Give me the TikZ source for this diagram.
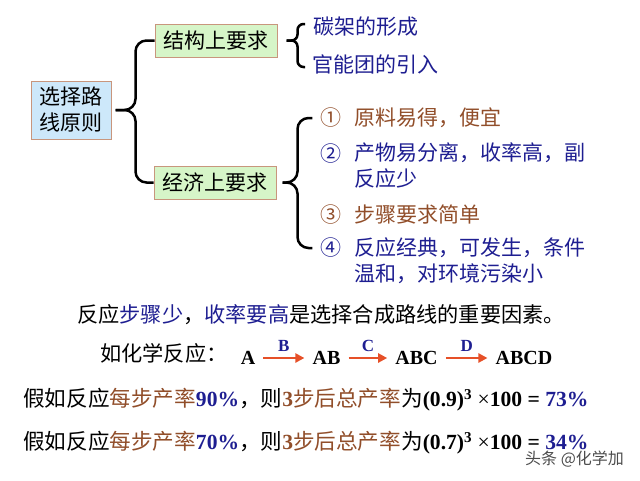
\documentclass[tikz,border=0pt]{standalone}
\usepackage{fontspec}
\setmainfont{Liberation Serif}
\newfontfamily\cjk{Noto Sans CJK SC}
\usetikzlibrary{calc,arrows.meta}
\definecolor{blu}{RGB}{30,30,145}
\definecolor{brn}{RGB}{145,78,42}
\definecolor{boxline}{RGB}{200,150,125}
\definecolor{selfill}{RGB}{205,232,250}
\definecolor{reqfill}{RGB}{214,245,200}
\definecolor{rxnred}{RGB}{230,80,40}
\newcommand\latb{\rmfamily\bfseries}
\tikzset{
  box/.style={draw=boxline, line width=1pt, inner sep=0pt, align=center,
    font=\fontsize{21}{26}\cjk},
  brace/.style={line width=2.5pt, rounded corners=11pt},
  item/.style={inner sep=0pt, align=left, font=\fontsize{21}{26}\cjk},
  sent/.style={inner sep=0pt, anchor=west, font=\fontsize{21.2}{25}\cjk},
  yield/.style={inner sep=0pt, anchor=west, font=\fontsize{21.6}{25}\cjk},
  chem/.style={inner xsep=8pt, inner ysep=0pt, font=\fontsize{20}{24}\latb},
  rxn/.style={->, draw=rxnred, line width=2.6pt},
  lbl/.style={text=blu, inner sep=0pt, font=\fontsize{17}{20}\latb}
}
\begin{document}
\begin{tikzpicture}[x=1pt,y=-1pt,>={Triangle[length=9pt,width=9pt]}]
\useasboundingbox (0,0) rectangle (640,480);
% tree
\node[box,fill=selfill,minimum width=80pt,minimum height=58pt] (sel) at (71,110) {选择路\\线原则};
\node[box,fill=reqfill,minimum width=122pt,minimum height=33pt] (jg) at (216,40.5) {结构上要求};
\node[box,fill=reqfill,minimum width=122pt,minimum height=33pt] (jj) at (215,182.5) {经济上要求};
\draw[brace] (jg.west) -| ($(sel.east)+(24,0)$) -- ($(sel.east)+(4,0)$);
\draw[brace] (jj.west) -| ($(sel.east)+(24,0)$) -- ($(sel.east)+(4,0)$);
% structure
\node[item,anchor=west,text=blu] (tan) at (313,27) {碳架的形成};
\node[item,anchor=west,text=blu] (gn) at (312,64) {官能团的引入};
\draw[brace,rounded corners=6pt] ($(tan.west)+(-8,-3)$) -| ($(jg.east)+(20,0)$) -- ($(jg.east)+(9,0)$);
\draw[brace,rounded corners=6pt] ($(gn.west)+(-7,3)$) -| ($(jg.east)+(20,0)$) -- ($(jg.east)+(9,0)$);
% economy
\node[item,text=brn] (n1) at (331,118) {①};
\node[item,text=blu] (n2) at (331,154) {②};
\node[item,text=brn] (n3) at (331,215) {③};
\node[item,text=blu] (n4) at (331,248) {④};
\node[item,anchor=west,text=brn] (t1) at (354,118) {原料易得，便宜};
\node[item,anchor=north west,text=blu] (t2) at (354,143) {产物易分离，收率高，副\\反应少};
\node[item,anchor=west,text=brn] (t3) at (354,215) {步骤要求简单};
\node[item,anchor=north west,text=blu] (t4) at (354,237) {反应经典，可发生，条件\\温和，对环境污染小};
\draw[brace] ($(n1.west)+(-8,0)$) -| ($(jj.east)+(21,0)$) -- ($(jj.east)+(6,0)$);
\draw[brace] ($(n4.west)+(-8,0)$) -| ($(jj.east)+(21,0)$) -- ($(jj.east)+(6,0)$);
% steps
\node[sent] (imp) at (77,315) {反应{\color{blu}步骤少}，{\color{blu}收率要高}是选择合成路线的重要因素。};
\node[sent] (eg) at (100,353) {如化学反应：};
\node[chem] (a) at (248,358) {A};
\node[chem] (ab) at (326.5,358) {AB};
\node[chem] (abc) at (416.5,358) {ABC};
\node[chem] (abcd) at (524,358) {ABCD};
\draw[rxn] (a) -- node[lbl,above=5pt]{B} (ab);
\draw[rxn] (ab) -- node[lbl,above=5pt]{C} (abc);
\draw[rxn] (abc) -- node[lbl,above=5pt]{D} (abcd);
% yields
\node[yield] (y90) at (23,400) {假如反应{\color{brn}每步产率}{\latb\color{blu}90\%}，则{\latb\color{brn}3}{\color{brn}步后总产率}为{\latb(0.9)\textsuperscript{3} {\mdseries ×}100 = {\color{blu}73\%}}};
\node[yield] (y70) at (23,443) {假如反应{\color{brn}每步产率}{\latb\color{blu}70\%}，则{\latb\color{brn}3}{\color{brn}步后总产率}为{\latb(0.7)\textsuperscript{3} {\mdseries ×}100 = {\color{blu}34\%}}};
\node[sent,text=black!70,font=\fontsize{16}{18}\cjk] (wm) at (525,459) {头条 @化学加};
\end{tikzpicture}
\end{document}
